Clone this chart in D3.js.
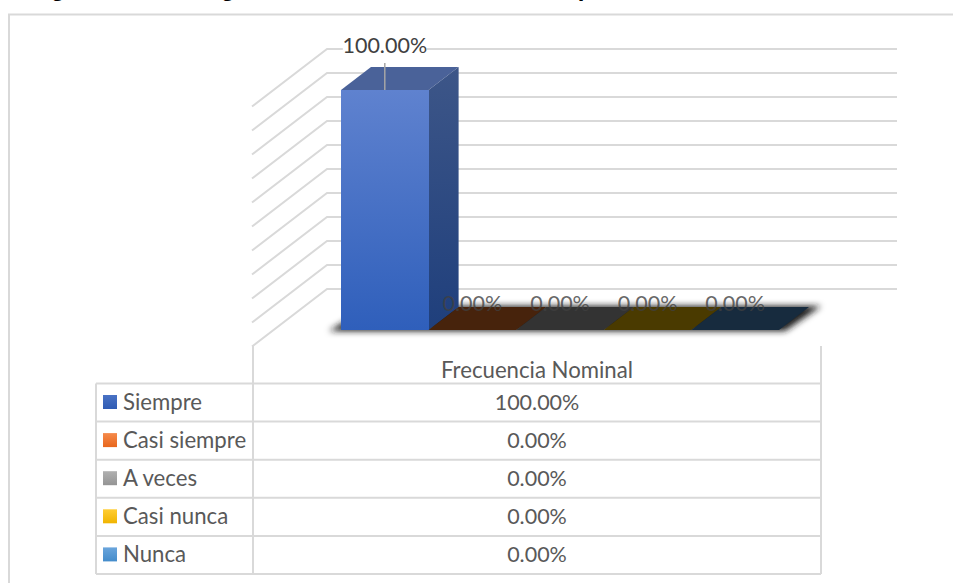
<!DOCTYPE html>
<html lang="es">
<head>
<meta charset="utf-8">
<title>Frecuencia Nominal</title>
<script src="https://cdn.jsdelivr.net/npm/d3@7/dist/d3.min.js"></script>
<style>
  html, body { margin: 0; padding: 0; background: #fff; overflow: hidden; }
  svg { display: block; font-family: Lato, "Open Sans", sans-serif; }
</style>
</head>
<body>
<div id="chart"></div>
<script>
// Chart content
const categories = ["Siempre", "Casi siempre", "A veces", "Casi nunca", "Nunca"];
const values = [1, 0, 0, 0, 0];
const seriesName = "Frecuencia Nominal";
const gridTicks = [0, 0.1, 0.2, 0.3, 0.4, 0.5, 0.6, 0.7, 0.8, 0.9, 1];
const swatchTop = ["#4a72c4", "#f58a4b", "#b0b0b0", "#ffcd33", "#6aa5dc"];
const swatchBottom = ["#2f5cb4", "#e8661c", "#949494", "#f0b400", "#448ccb"];
const floorColors = ["#2f5cb4", "#47230c", "#333333", "#4a3a00", "#172b3e"];
const headingGlyphs = [["g", 58], ["g", 228], ["p", 585]];

const W = 953, H = 583;
const GRID = "#d9d9d9", TEXT = "#595959", LABEL = "#404040";
const FONT = 22.2, NUM_FONT = 21.5;

const svg = d3.select("#chart").append("svg").attr("width", W).attr("height", H);
const defs = svg.append("defs");

const vGradient = (id, top, bottom) => {
  const g = defs.append("linearGradient").attr("id", id)
    .attr("x1", 0).attr("y1", 0).attr("x2", 0).attr("y2", 1);
  g.append("stop").attr("offset", 0).attr("stop-color", top);
  g.append("stop").attr("offset", 1).attr("stop-color", bottom);
};
vGradient("barFront", "#5f82cf", "#2f5fbb");
vGradient("barSide", "#3d5688", "#1f3f7c");
categories.forEach((c, i) => vGradient("swatch" + i, swatchTop[i], swatchBottom[i]));
defs.append("filter").attr("id", "floorShadow")
  .attr("x", "-10%").attr("y", "-40%").attr("width", "120%").attr("height", "180%")
  .append("feGaussianBlur").attr("stdDeviation", 3);

// Scales: bar space at the front of the box, wall space at the back
const x = d3.scaleBand().domain(categories).range([341, 779]);
const y = d3.scaleLinear().domain([0, 1]).range([330, 90]);
const yWall = d3.scaleLinear().domain([0, 1]).range([289, 49]);
const depth = { dx: 30, dy: -23 };
const wall = { left: 327, right: 897, sideX: 252, sideDy: 57.5 };

// Heading of the surrounding document, cut by the top edge of the page
svg.append("g").selectAll("text").data(headingGlyphs).join("text")
  .attr("x", d => d[1]).attr("y", -4).attr("text-anchor", "middle")
  .attr("font-family", "Liberation Sans").attr("font-weight", 700).attr("font-size", 24)
  .attr("fill", "#000").text(d => d[0]);

// Chart area border
svg.append("path")
  .attr("d", d3.line()([[9, H], [9, 14.5], [W, 14.5]]))
  .attr("fill", "none").attr("stroke", GRID).attr("stroke-width", 2);

// Gridlines on the back and side walls
const grid = svg.append("g").attr("fill", "none").attr("stroke", GRID).attr("stroke-width", 2);
grid.selectAll("path").data(gridTicks).join("path")
  .attr("d", t => d3.line()([
    [wall.sideX, yWall(t) + wall.sideDy],
    [wall.left, yWall(t)],
    [wall.right, yWall(t)]
  ]));

const poly = pts => d3.line()(pts) + "Z";
const x0 = x(categories[0]), xN = x.range()[1];

// Soft shadow below the floor
svg.append("path")
  .attr("d", poly([[x0 - 12, y(0) + 1], [xN + 6, y(0) + 1], [xN + depth.dx + 12, y(0) + depth.dy - 1], [x0 + depth.dx, y(0) + depth.dy - 1]]))
  .attr("fill", "#1c1c1c").attr("filter", "url(#floorShadow)");

// Box faces for each category: top, side, front
const boxes = svg.append("g").attr("shape-rendering", "crispEdges").selectAll("g").data(categories).join("g");
boxes.append("path")
  .attr("d", (c, i) => {
    const l = x(c), r = l + x.bandwidth(), t = y(values[i]);
    return poly([[l, t], [r, t], [r + depth.dx, t + depth.dy], [l + depth.dx, t + depth.dy]]);
  })
  .attr("fill", (c, i) => values[i] > 0 ? "#4a6299" : floorColors[i])
  .attr("shape-rendering", "auto");
boxes.filter((c, i) => values[i] > 0).append("path")
  .attr("d", (c, i) => {
    const r = x(c) + x.bandwidth(), t = y(values[i]), b = y(0);
    return poly([[r, t], [r + depth.dx, t + depth.dy], [r + depth.dx, b + depth.dy], [r, b]]);
  })
  .attr("fill", "url(#barSide)")
  .attr("shape-rendering", "auto");
boxes.filter((c, i) => values[i] > 0).append("rect")
  .attr("x", c => x(c))
  .attr("width", x.bandwidth())
  .attr("y", (c, i) => y(values[i]))
  .attr("height", (c, i) => y(0) - y(values[i]))
  .attr("fill", "url(#barFront)");

// Data labels
const fmt = d3.format(".2%");
const labelX = c => x(c) + x.bandwidth() / 2;
const labels = svg.append("g").attr("font-size", NUM_FONT).attr("text-anchor", "middle");
categories.forEach((c, i) => {
  if (values[i] > 0) {
    labels.append("line")
      .attr("x1", labelX(c)).attr("x2", labelX(c))
      .attr("y1", y(values[i]) + depth.dy - 4).attr("y2", y(values[i]))
      .attr("stroke", "#a6a6a6").attr("stroke-width", 1.5);
    labels.append("rect")
      .attr("x", labelX(c) - 42).attr("width", 84)
      .attr("y", yWall(1) - 3).attr("height", 8).attr("fill", "#fff");
  }
  labels.append("text")
    .attr("x", labelX(c))
    .attr("y", values[i] > 0 ? y(values[i]) - 37 : y(0) - 19)
    .attr("fill", LABEL).attr("fill-opacity", values[i] > 0 ? 1 : 0.8)
    .text(fmt(values[i]));
});

// Data table under the plot
const table = { left: 96, stub: 253, right: 821, top: 346, head: 383.5, rowH: 38.1 };
const rowY = d3.scaleBand().domain(categories)
  .range([table.head, table.head + table.rowH * categories.length]);
const bottom = rowY.range()[1];
const centerX = (table.stub + table.right) / 2;

const rules = svg.append("g").attr("stroke", GRID).attr("stroke-width", 2).attr("fill", "none");
[table.stub, table.right].forEach(px =>
  rules.append("line").attr("x1", px).attr("x2", px).attr("y1", table.top).attr("y2", bottom));
rules.append("line").attr("x1", table.left).attr("x2", table.left).attr("y1", table.head).attr("y2", bottom);
[table.head, ...categories.map(c => rowY(c) + rowY.bandwidth())].forEach(py =>
  rules.append("line").attr("x1", table.left).attr("x2", table.right).attr("y1", py).attr("y2", py));

const cells = svg.append("g").attr("font-size", FONT).attr("fill", TEXT);
cells.append("text").attr("x", centerX).attr("y", table.head - 6)
  .attr("text-anchor", "middle").text(seriesName);

const rows = cells.selectAll("g").data(categories).join("g")
  .attr("transform", c => `translate(0,${rowY(c)})`);
rows.append("rect").attr("x", 103).attr("y", 11.5).attr("width", 14).attr("height", 14)
  .attr("fill", (c, i) => `url(#swatch${i})`);
rows.append("text").attr("x", 123).attr("y", 26).text(c => c);
rows.append("text").attr("x", centerX).attr("y", 26).attr("text-anchor", "middle")
  .attr("font-size", NUM_FONT).text((c, i) => fmt(values[i]));
</script>
</body>
</html>
